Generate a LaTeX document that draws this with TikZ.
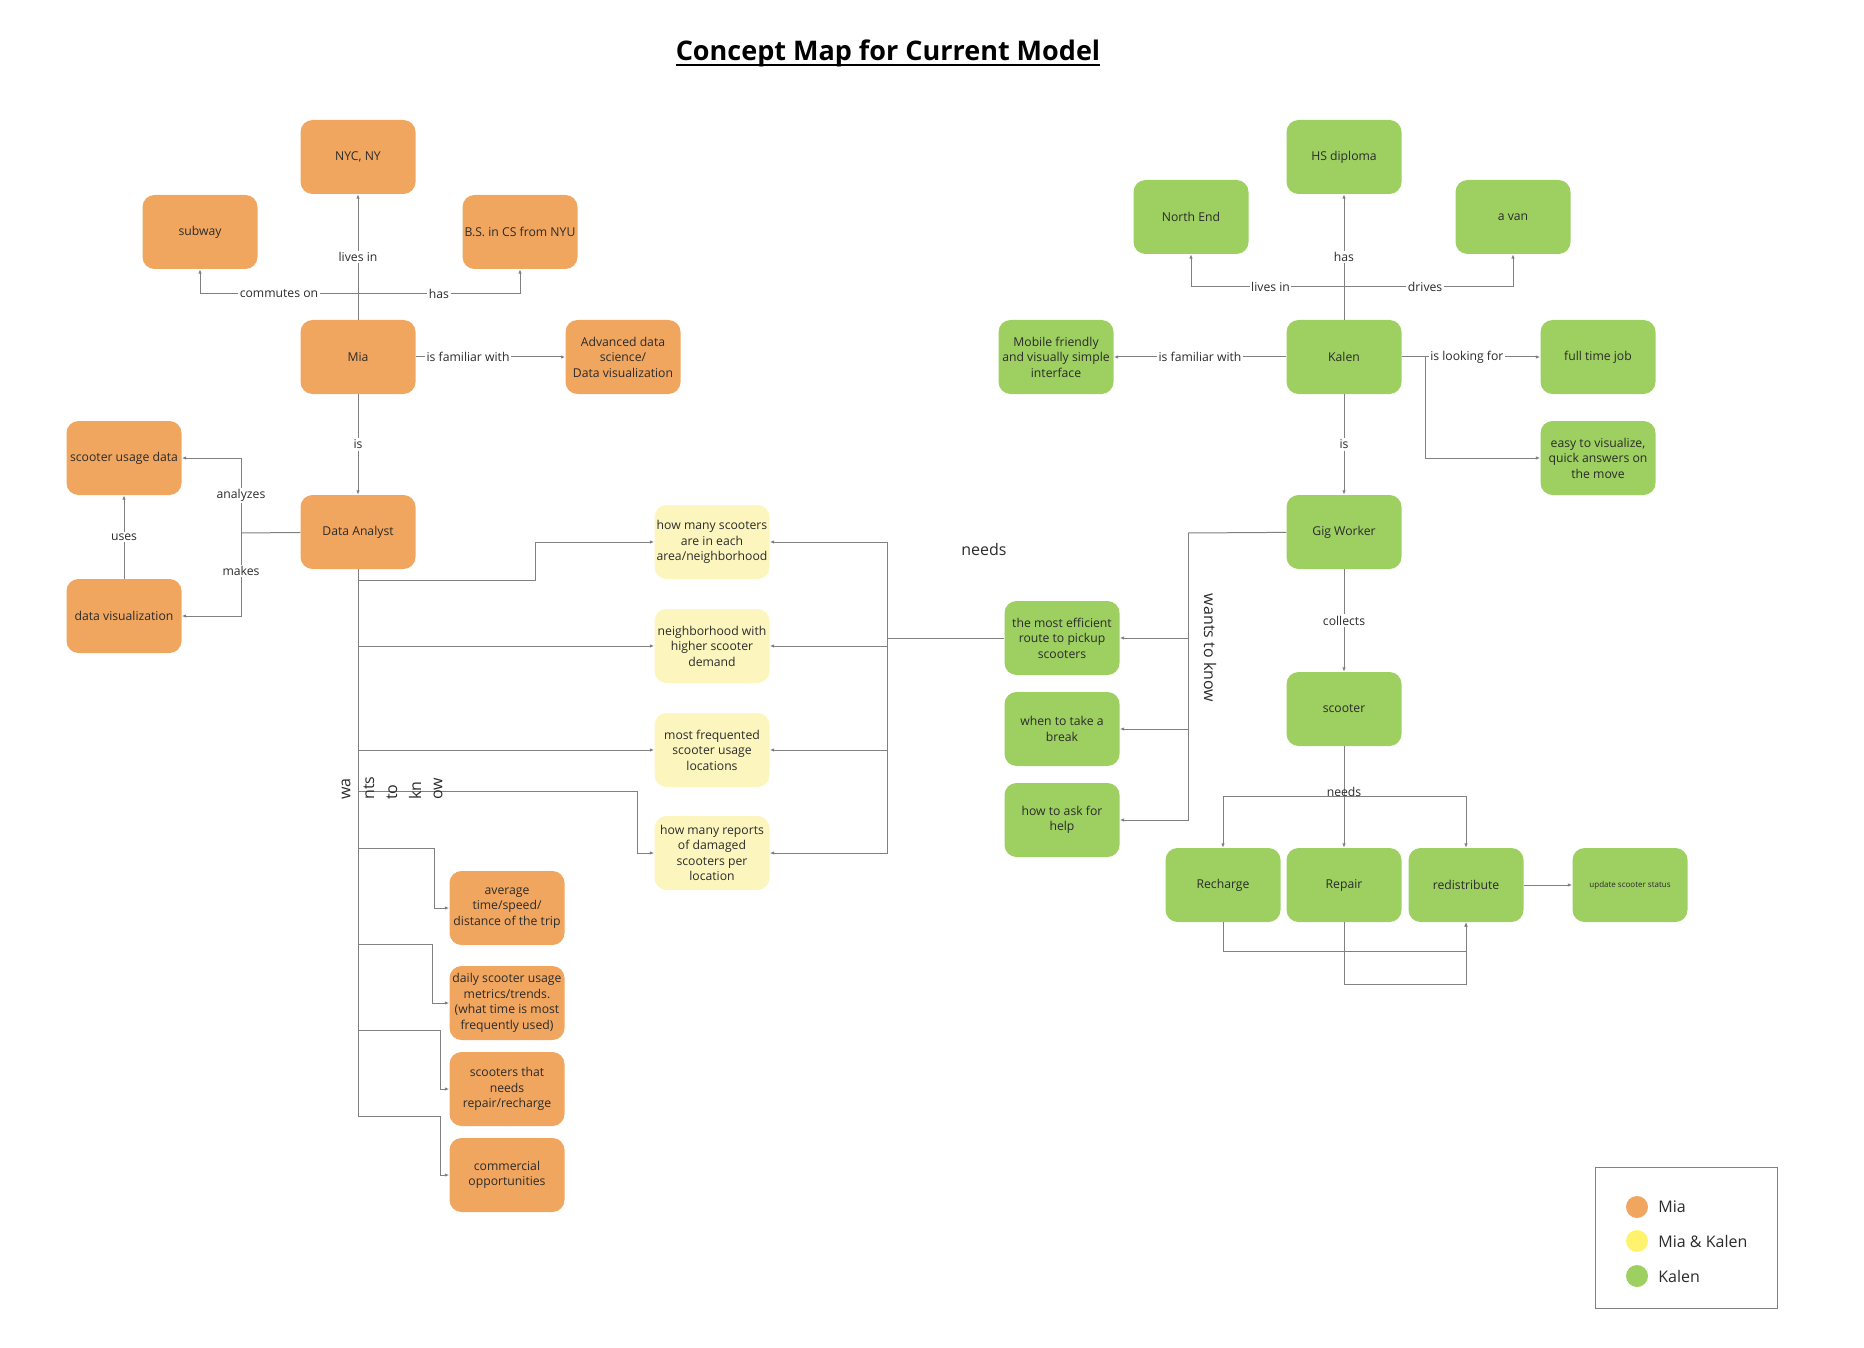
\documentclass[tikz,border=0pt]{standalone}
\usepackage{fontspec}
\setmainfont{Open Sans}
\usepackage{tikz}
\usetikzlibrary{arrows.meta}
\usetikzlibrary{positioning}

\definecolor{miaorange}{HTML}{F1A65F}
\definecolor{bothyellow}{HTML}{FCF6BE}
\definecolor{kalgreen}{HTML}{9DCF61}
\definecolor{dotyellow}{HTML}{FFF36E}
\definecolor{linegrey}{HTML}{808080}
\definecolor{txtgrey}{HTML}{2B2B2B}

\begin{document}
\begin{tikzpicture}[x=1pt,y=-1pt]
  \tikzstyle{box} = [rectangle, rounded corners=12pt, minimum width=115pt, minimum height=74pt, align=center, inner sep=1pt, text=txtgrey, font=\fontsize{12.2}{15.5}\selectfont]
  \tikzstyle{mia} = [box, fill=miaorange]
  \tikzstyle{both} = [box, fill=bothyellow]
  \tikzstyle{kal} = [box, fill=kalgreen]
  \tikzstyle{link} = [draw=linegrey, line width=1pt, -{Latex[length=4.5pt,width=3.5pt]}]
  \tikzstyle{wire} = [draw=linegrey, line width=1pt]
  \tikzstyle{lbl} = [fill=white, inner sep=1.5pt, text=txtgrey, font=\fontsize{12.2}{14}\selectfont]
  \tikzstyle{big} = [inner sep=0pt, text=txtgrey, font=\fontsize{16}{18}\selectfont]
  \tikzstyle{dot} = [circle, minimum size=22pt, inner sep=0pt]

  \useasboundingbox (0,0) rectangle (1864,1348);

  \node[anchor=base, inner sep=0pt, text=black, font=\fontsize{27}{32}\selectfont\bfseries] (T) at (888,61) {Concept Map for Current Model};
  \draw[black, line width=1.6pt] ([yshift=-4pt]T.base west) -- ([yshift=-4pt]T.base east);

  \node[mia] (NYC) at (358,157) {NYC, NY};
  \node[mia] (Sub) at (200,232) {subway};
  \node[mia] (BS) at (520,232) {B.S. in CS from NYU};
  \node[mia] (Mia) at (358,357) {Mia};
  \node[mia] (Adv) at (623,357) {Advanced data\\science/\\Data visualization};
  \node[mia] (Scd) at (124,458) {scooter usage data};
  \node[mia] (DA) at (358,532) {Data Analyst};
  \node[mia] (DV) at (124,616) {data visualization};
  \node[mia] (W1) at (507,908) {average\\time/speed/\\distance of the trip};
  \node[mia] (W2) at (507,1003) {daily scooter usage\\metrics/trends.\\(what time is most\\frequently used)};
  \node[mia] (W3) at (507,1089) {scooters that\\needs\\repair/recharge};
  \node[mia] (W4) at (507,1175) {commercial\\opportunities};

  \node[both] (Q1) at (712,542) {how many scooters\\are in each\\area/neighborhood};
  \node[both] (Q2) at (712,646) {neighborhood with\\higher scooter\\demand};
  \node[both] (Q3) at (712,750) {most frequented\\scooter usage\\locations};
  \node[both] (Q4) at (712,853) {how many reports\\of damaged\\scooters per\\location};

  \node[kal] (HS) at (1344,157) {HS diploma};
  \node[kal] (NE) at (1191,217) {North End};
  \node[kal] (Van) at (1513,217) {a van};
  \node[kal] (Kal) at (1344,357) {Kalen};
  \node[kal] (Mob) at (1056,357) {Mobile friendly\\and visually simple\\interface};
  \node[kal] (Job) at (1598,357) {full time job};
  \node[kal] (Easy) at (1598,458) {easy to visualize,\\quick answers on\\the move};
  \node[kal] (Gig) at (1344,532) {Gig Worker};
  \node[kal] (Route) at (1062,638) {the most efficient\\route to pickup\\scooters};
  \node[kal] (Brk) at (1062,729) {when to take a\\break};
  \node[kal] (Help) at (1062,820) {how to ask for\\help};
  \node[kal] (Sc) at (1344,709) {scooter};
  \node[kal] (Rch) at (1223,885) {Recharge};
  \node[kal] (Rep) at (1344,885) {Repair};
  \node[kal] (Red) at (1466,885) {redistribute};
  \node[kal, font=\fontsize{8}{9}\selectfont] (Upd) at (1630,885) {update scooter status};

  \coordinate (MJ) at (358,294);
  \coordinate (DJ) at (241,533);
  \coordinate (KJ) at (1344,287);
  \coordinate (GJ) at (1188,533);
  \coordinate (RJ) at (887,638);

  \draw[link] (Mia) -- (NYC) node[lbl,midway] {lives in};
  \draw[link] (MJ) -| (Sub) node[lbl,pos=.25] {commutes on};
  \draw[link] (MJ) -| (BS) node[lbl,pos=.25] {has};
  \draw[link] (Mia) -- (Adv) node[lbl,pos=.35] {is familiar with};
  \draw[link] (Mia) -- (DA) node[lbl,midway] {is};
  \draw[wire] (DA) -- (DJ);
  \draw[link] (DJ) |- (Scd) node[lbl,pos=.25] {analyzes};
  \draw[link] (DJ) |- (DV) node[lbl,pos=.23] {makes};
  \draw[link] (DV) -- (Scd) node[lbl,midway] {uses};

  \draw[link] (DA.south) -- (358,580) -- (535,580) |- (Q1);
  \draw[link] (DA.south) |- (Q2);
  \draw[link] (DA.south) |- (Q3);
  \draw[link] (DA.south) -- (358,791) -- (637,791) |- (Q4);
  \draw[link] (DA.south) -- (358,848) -- (434,848) |- (W1);
  \draw[link] (DA.south) -- (358,944) -- (432,944) |- (W2);
  \draw[link] (DA.south) -- (358,1030) -- (440,1030) |- (W3);
  \draw[link] (DA.south) -- (358,1116) -- (440,1116) |- (W4);
  \node[big, rotate=90, anchor=west] (WK1) at (346,800) {wa};
  \node[big, rotate=90, anchor=west] (WK2) at (369,800) {nts};
  \node[big, rotate=90, anchor=west] (WK3) at (392,800) {to};
  \node[big, rotate=90, anchor=west] (WK4) at (415,800) {kn};
  \node[big, rotate=90, anchor=west] (WK5) at (438,800) {ow};

  \draw[wire] (Route) -- (RJ);
  \draw[link] (RJ) |- (Q1);
  \draw[link] (RJ) |- (Q2);
  \draw[link] (RJ) |- (Q3);
  \draw[link] (RJ) |- (Q4);
  \node[big] (Nd) at (984,549) {needs};

  \draw[link] (Kal) -- (HS) node[lbl,midway] {has};
  \draw[link] (KJ) -| (NE) node[lbl,pos=.24] {lives in};
  \draw[link] (KJ) -| (Van) node[lbl,pos=.24] {drives};
  \draw[link] (Kal) -- (Mob) node[lbl,midway] {is familiar with};
  \draw[link] (Kal) -- (Job) node[lbl,pos=.47] {is looking for};
  \draw[link] (Kal.east) -- (1425,357) |- (Easy);
  \draw[link] (Kal) -- (Gig) node[lbl,midway] {is};
  \draw[link] (Gig) -- (Sc) node[lbl,midway] {collects};

  \draw[wire] (Gig) -- (GJ);
  \draw[link] (GJ) |- (Route);
  \draw[link] (GJ) |- (Brk);
  \draw[link] (GJ) |- (Help);
  \node[big, rotate=-90] (WK) at (1210,648) {wants to know};

  \draw[link] (Sc.south) -- (1344,796) -| (Rch);
  \draw[link] (Sc.south) -- (1344,796) -| (Red);
  \draw[link] (Sc) -- (Rep);
  \node[inner sep=0pt, text=txtgrey, font=\fontsize{12.2}{14}\selectfont] (Nd2) at (1344,792) {needs};
  \draw[link] (Red) -- (Upd);
  \draw[link] (Rch.south) -- (1223,951) -| (Red.south);
  \draw[link] (Rep.south) -- (1344,984) -| (Red.south);

  \draw[draw=linegrey, line width=1pt] (1595,1167) rectangle (1777,1308);
  \node[dot, fill=miaorange] (L1) at (1637,1207) {};
  \node[dot, fill=dotyellow] (L2) at (1637,1241) {};
  \node[dot, fill=kalgreen] (L3) at (1637,1276) {};
  \node[big, right=10pt of L1] {Mia};
  \node[big, right=10pt of L2] {Mia \& Kalen};
  \node[big, right=10pt of L3] {Kalen};
\end{tikzpicture}
\end{document}
